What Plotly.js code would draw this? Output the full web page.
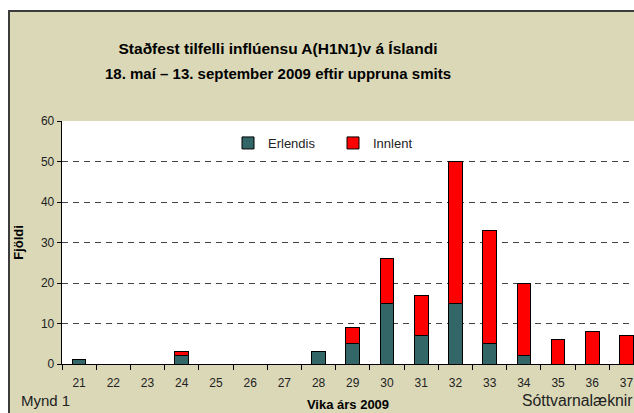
<!DOCTYPE html>
<html>
<head>
<meta charset="utf-8">
<script src="https://cdn.plot.ly/plotly-3.0.1.min.js"></script>
<style>
  html, body { margin:0; padding:0; background:#ffffff; overflow:hidden; }
  #wrap { position:relative; width:634px; height:413px; }
  #frame { position:absolute; left:8px; top:10px; width:640px; height:420px;
           background:#DAD8B7; border-left:2px solid #3c3c3c; border-top:2px solid #3c3c3c; box-sizing:border-box; }
  #chart { position:absolute; left:0; top:0; width:634px; height:413px; }
</style>
</head>
<body>
<div id="wrap"><div id="frame"></div><div id="chart"></div></div>
<script>
const weeks = ["21","22","23","24","25","26","27","28","29","30","31","32","33","34","35","36","37"];
const erlendis = [1,0,0,2,0,0,0,3,5,15,7,15,5,2,0,0,0];
const innlent  = [0,0,0,1,0,0,0,0,4,11,10,35,28,18,6,8,7];

const traces = [
  { type:'bar', name:'Erlendis', x:weeks, y:erlendis, width:0.4,
    marker:{color:'#336666', line:{color:'#000000', width:1}} },
  { type:'bar', name:'Innlent', x:weeks, y:innlent, width:0.4,
    marker:{color:'#FF0000', line:{color:'#000000', width:1}} }
];

const fontFam = '"Liberation Sans", Arial, sans-serif';

const layout = {
  width:634, height:413,
  paper_bgcolor:'rgba(0,0,0,0)', plot_bgcolor:'#ffffff',
  margin:{l:62, r:0, t:121, b:49},
  barmode:'stack',
  showlegend:true,
  font:{family:fontFam, color:'#222222', size:12},
  title:{text:'<span style="font-size:15.5px">Staðfest tilfelli inflúensu A(H1N1)v á Íslandi</span><br><span style="font-size:15px">18. maí – 13. september 2009 eftir uppruna smits</span>',
         font:{family:fontFam, size:19, color:'#000000', weight:'bold'},
         x:278/634, xanchor:'center', xref:'container', y:1-54/413, yanchor:'middle', yref:'container'},
  xaxis:{type:'category', range:[-0.5, 16.22], tickson:'boundaries',
         ticks:'outside', ticklen:5, tickcolor:'#000', showline:true, linecolor:'#000', linewidth:1.3,
         showgrid:false, ticklabelstandoff:7, tickfont:{family:fontFam, size:12, color:'#222'},
         title:{text:'Vika árs 2009', font:{family:fontFam, size:13, weight:'bold', color:'#000'}, standoff:11}},
  yaxis:{range:[0,60], dtick:10, ticks:'outside', ticklen:4, tickcolor:'#000',
         showline:true, linecolor:'#000', linewidth:1.3,
         showgrid:true, gridcolor:'#444444', gridwidth:1, griddash:'6px,5px',
         zeroline:false, tickfont:{family:fontFam, size:12, color:'#222'},
         title:{text:'Fjöldi', font:{family:fontFam, size:13, weight:'bold', color:'#000'}, standoff:14}},
  legend:{orientation:'h', x:(228-62)/572, xanchor:'left', y:(364-128)/243, yanchor:'top',
          bgcolor:'rgba(0,0,0,0)', font:{family:fontFam, size:13, color:'#222'}, entrywidth:60, traceorder:'normal'},
  annotations:[
    {text:'Mynd 1', xref:'paper', yref:'paper', x:(19-62)/572, xanchor:'left', y:(364-400)/243, yanchor:'middle',
     showarrow:false, font:{family:fontFam, size:15, color:'#222'}},
    {text:'Sóttvarnalæknir', xref:'paper', yref:'paper', x:(520-62)/572, xanchor:'left', y:(364-400)/243, yanchor:'middle',
     showarrow:false, font:{family:fontFam, size:15.8, color:'#222'}}
  ]
};

Plotly.newPlot('chart', traces, layout, {displayModeBar:false, staticPlot:true});
</script>
</body>
</html>
